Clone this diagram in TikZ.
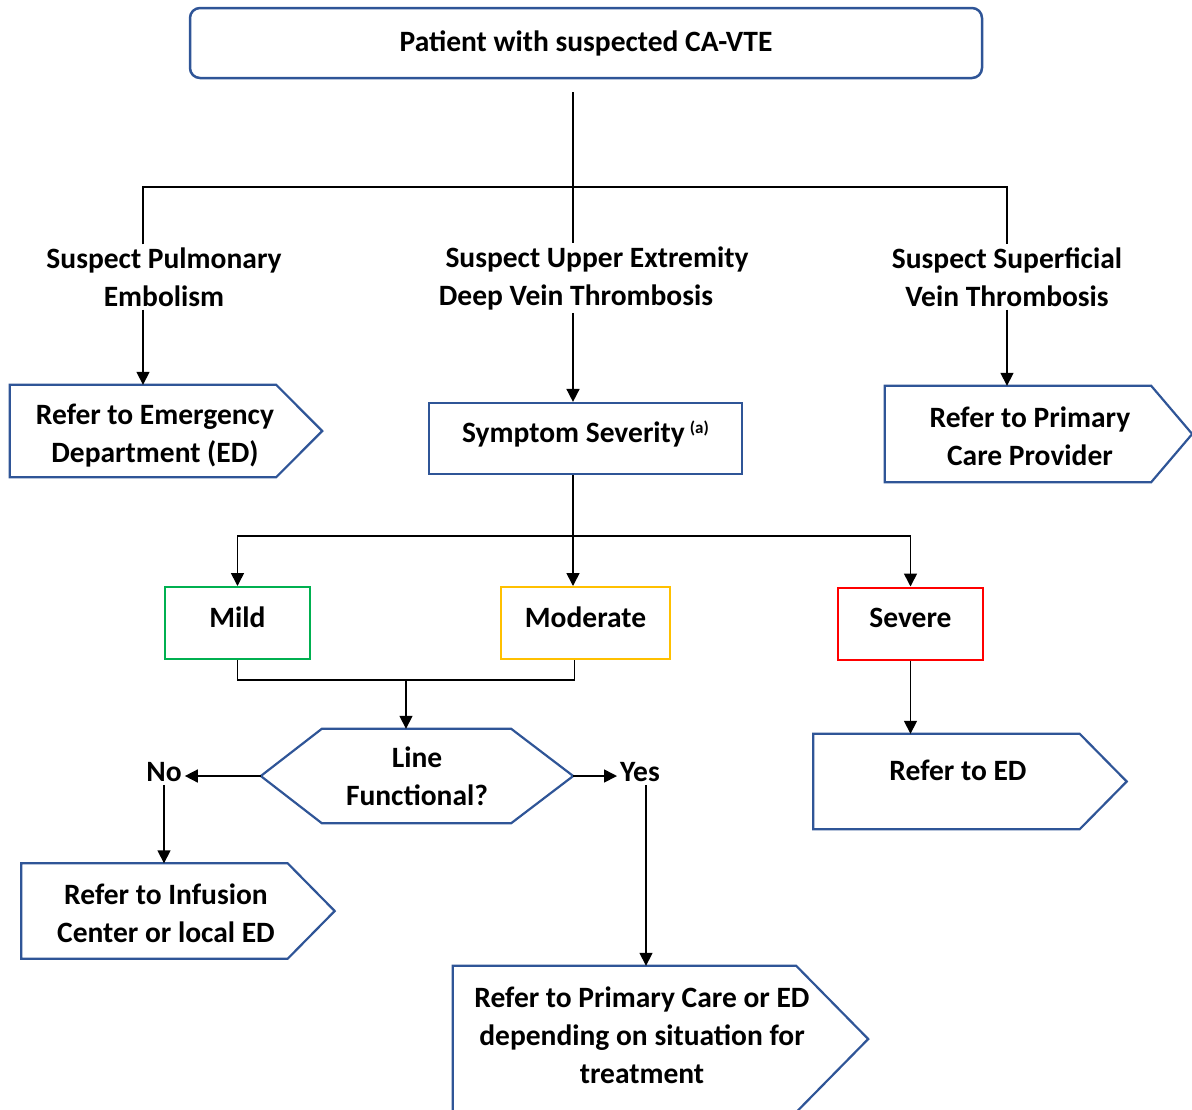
\documentclass[tikz,border=0pt]{standalone}
\usepackage{fontspec}
\setmainfont{Carlito}
\usepackage{xcolor}
\usetikzlibrary{arrows.meta, positioning, calc}
\definecolor{boxblue}{RGB}{47,85,151}
\definecolor{mildgreen}{RGB}{0,176,80}
\definecolor{modyellow}{RGB}{255,192,0}
\definecolor{sevred}{RGB}{255,0,0}

\begin{document}
\begin{tikzpicture}[
    x=1pt, y=-1pt,
    >={Triangle[length=13pt,width=13pt]},
    every node/.style={font=\bfseries\fontsize{29.5}{38}\selectfont, align=center},
    tag/.style={inner sep=3pt},
    startbox/.style={draw=boxblue, line width=2.5pt, rounded corners=10pt, minimum width=792pt, minimum height=70pt},
    plainbox/.style={draw=boxblue, line width=2.2pt, minimum width=313pt, minimum height=71pt},
    levelbox/.style={line width=2pt, minimum height=72pt, text depth=12pt},
    referbody/.style={minimum width=266pt, minimum height=95pt, inner sep=0pt},
    outline/.style={draw=boxblue, line width=2.2pt, line join=miter},
    wire/.style={line width=1.6pt},
    arrow/.style={wire, ->},
  ]
  \useasboundingbox (0,0) rectangle (1192,1109);
  % Entry
  \node[startbox] (start) at (586,43) {Patient with suspected CA-VTE};
  \coordinate (trunk) at (573,187);
  % Suspicions
  \node[tag] (spe) at (164,277) {Suspect Pulmonary\\Embolism};
  \node[tag] (sue) at (590,278) {\hspace*{14pt}Suspect Upper Extremity\\Deep Vein Thrombosis\hspace*{28pt}};
  \node[tag] (ssv) at (1007,277) {Suspect Superficial\\Vein Thrombosis};
  % First referrals
  \node[referbody, minimum height=92pt] (ped) at (143,431) {};
  \node[tag] (pedtxt) at ([xshift=12pt, yshift=-5pt]ped.center) {Refer to Emergency\\Department (ED)};
  \node[plainbox, text depth=14pt] (sev) at (585.5,438.5) {Symptom Severity\hspace{5pt}\raisebox{9pt}{\fontsize{17}{17}\selectfont (a)}};
  \node[referbody, minimum height=96pt] (ppc) at (1018,434) {};
  \node[tag] (ppctxt) at ([xshift=12pt, yshift=-2pt]ppc.center) {Refer to Primary\\Care Provider};
  \draw[outline] (ped.north west) -- (ped.north east) -- ([xshift=46pt]ped.east) -- (ped.south east) -- (ped.south west) -- cycle;
  \draw[outline] (ppc.north west) -- (ppc.north east) -- ([xshift=41pt]ppc.east) -- (ppc.south east) -- (ppc.south west) -- cycle;
  % Severity levels
  \coordinate (fork) at (573,536);
  \node[levelbox, draw=mildgreen, minimum width=145pt] (mild) at (237.5,623) {Mild};
  \node[levelbox, draw=modyellow, minimum width=169pt] (mod) at (585.5,623) {Moderate};
  \node[levelbox, draw=sevred, minimum width=145pt] (sevr) at (910.5,623.5) {Severe};
  % Line check
  \coordinate (join) at (406,680);
  \node[minimum width=312pt, minimum height=94pt, inner sep=0pt] (lf) at (417,776) {Line\\Functional?};
  \draw[outline] (lf.west) -- ([xshift=61pt]lf.north west) -- ([xshift=-62pt]lf.north east) -- (lf.east) -- ([xshift=-62pt]lf.south east) -- ([xshift=61pt]lf.south west) -- cycle;
  \node[tag] (no) at (164,772) {No};
  \node[tag] (yes) at (640,772) {Yes};
  % Final referrals
  \node[referbody] (inf) at (154.5,911) {};
  \node[tag] (inftxt) at ([xshift=11.5pt, yshift=-2pt]inf.center) {Refer to Infusion\\Center or local ED};
  \node[referbody, minimum width=343pt, minimum height=146pt] (pce) at (624.5,1039) {};
  \node[tag] (pcetxt) at ([xshift=17.5pt, yshift=3.5pt]pce.center) {Refer to Primary Care or ED\\depending on situation for\\treatment};
  \node[referbody] (red) at (946.5,781.5) {};
  \node[tag] (redtxt) at ([xshift=11.5pt, yshift=11pt]red.center) {Refer to ED};
  \draw[outline] (inf.north west) -- (inf.north east) -- ([xshift=47pt]inf.east) -- (inf.south east) -- (inf.south west) -- cycle;
  \draw[outline] (pce.north west) -- (pce.north east) -- ([xshift=72pt]pce.east) -- (pce.south east) -- (pce.south west) -- cycle;
  \draw[outline] (red.north west) -- (red.north east) -- ([xshift=47pt]red.east) -- (red.south east) -- (red.south west) -- cycle;
  % Connectors
  \draw[wire, shorten <=13pt] (trunk |- start.south) -- (trunk |- sue.north);
  \draw[wire] (spe.north -| ped.north) |- (trunk) -| (ssv.north);
  \draw[arrow] (spe.south -| ped.north) -- (ped.north);
  \draw[arrow] (trunk |- sue.south) -- (trunk |- sev.north);
  \draw[arrow] (ssv.south) -- (ssv.south |- ppc.north);
  \draw[wire] (trunk |- sev.south) -- (fork);
  \draw[arrow] (fork) -| (mild.north);
  \draw[arrow] (fork) -- (fork |- mod.north);
  \draw[arrow] (fork) -| (sevr.north);
  \draw[wire] (mild.south) |- (join) -| ([xshift=-11pt]mod.south);
  \draw[arrow] (join) -- (join |- lf.north);
  \draw[arrow] (lf.west) -- (lf.west -| no.east);
  \draw[arrow] (lf.east) -- (lf.east -| yes.west);
  \draw[arrow] (no.south) -- (no.south |- inf.north);
  \draw[arrow] ([xshift=6pt]yes.south) -- ([xshift=6pt]yes.south |- pce.north);
  \draw[arrow] (sevr.south) -- (sevr.south |- red.north);
\end{tikzpicture}
\end{document}
